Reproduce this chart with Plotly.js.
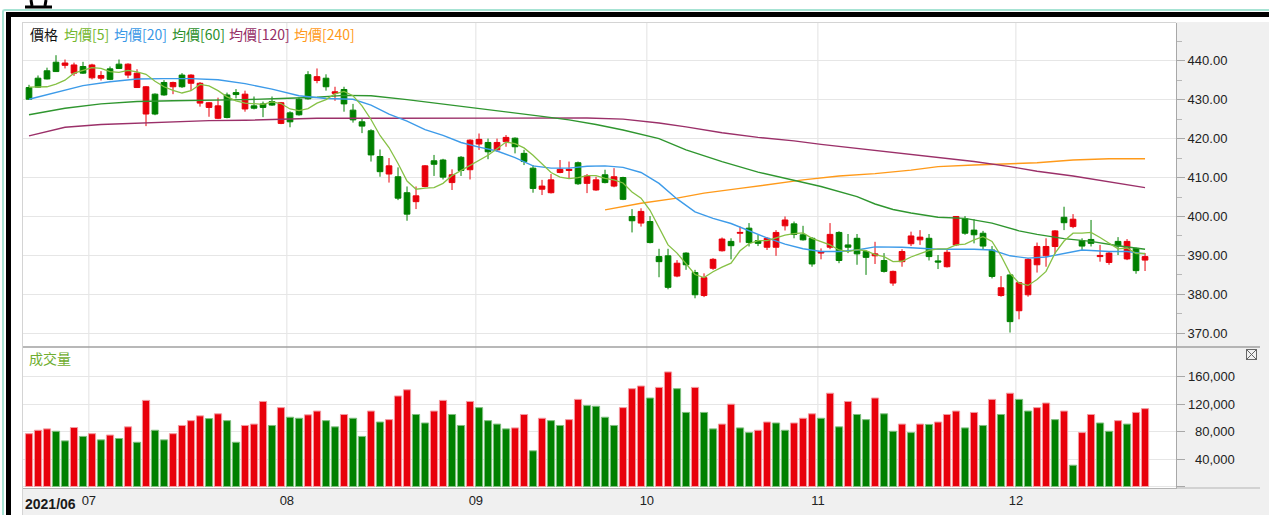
<!DOCTYPE html>
<html><head><meta charset="utf-8">
<script src="https://cdn.plot.ly/plotly-3.0.1.min.js"></script>
<style>
html,body{margin:0;padding:0;background:#fff;width:1269px;height:515px;overflow:hidden;}
#wrap{position:relative;width:1269px;height:515px;}
.abs{position:absolute;}
#chart{position:absolute;left:0;top:0;width:1269px;height:515px;z-index:2;}
</style></head><body>
<div id="wrap">
 <div class="abs" style="left:2px;top:9px;width:1267px;height:506px;border-left:2px solid #a6e3d3;border-top:2px solid #a6e3d3;border-top-left-radius:3px;"></div>
 <div class="abs" style="left:6px;top:12px;width:1263px;height:503px;border-left:5px solid #000;border-top:5px solid #000;"></div>
 <div class="abs" style="left:1176px;top:22px;width:93px;height:493px;background:#f0f0f0;"></div>
 <div class="abs" style="left:22px;top:488px;width:1247px;height:27px;background:#f0f0f0;"></div>
 <div class="abs" style="left:22px;top:22px;width:1px;height:493px;background:#d4d4d4;"></div>
 <div class="abs" style="left:22px;top:22px;width:1154px;height:1px;background:#d4d4d4;"></div>
 <svg class="abs" style="left:22px;top:0px;" width="36" height="10">
  <path d="M3 7 H30" stroke="#000" stroke-width="3"/>
  <path d="M9 0 L10 6 M24 0 L23 6" stroke="#000" stroke-width="3"/>
 </svg>
 <div id="chart"></div>
 <svg class="abs" style="left:1246px;top:349px;z-index:3;" width="12" height="12">
  <rect x="0.5" y="0.5" width="10" height="10" fill="none" stroke="#666" stroke-width="1"/>
  <path d="M1 1 L10 10 M10 1 L1 10" stroke="#666" stroke-width="1"/>
 </svg>
</div>
<script>
// ---------------- data ----------------
const monthLabels = ['07','08','09','10','11','12'];
const monthStartIdx = [7, 29, 50, 69, 88, 110];
const firstLabel = '2021/06';

const open = [433.1,435.5,437.4,439.6,438.8,436.8,438.5,435.6,435.5,437.9,
439.1,436.3,433.1,426.3,431.4,434.4,433.3,436.3,434.2,429.1,
428.0,425.2,431.2,431.8,427.6,428.4,428.9,429.5,423.9,426.6,
430.1,436.4,434.9,435.5,431.6,432.6,427.3,424.3,422.0,415.4,
410.9,410.2,406.1,403.8,407.7,414.3,414.5,408.7,415.2,412.0,
418.6,419.0,417.1,419.2,420.1,416.2,412.4,407.0,406.1,411.3,
411.8,413.8,408.5,406.8,410.7,407.8,410.0,400.0,398.3,398.7,
389.7,389.9,384.7,390.6,385.6,379.7,386.7,391.2,393.6,395.7,
397.0,393.8,392.1,392.1,397.6,398.1,395.3,394.4,390.6,392.1,
395.9,392.7,394.4,391.0,389.9,388.7,382.9,388.4,393.0,394.0,
394.4,388.6,387.1,392.7,399.4,396.5,395.7,391.4,379.7,385.0,
375.8,379.9,387.6,389.9,392.3,399.8,397.4,393.8,394.1,389.7,
388.2,393.6,389.1,391.8,388.8];
const high = [433.8,436.2,438.2,441.4,440.3,439.5,439.7,439.2,437.3,438.5,
440.3,439.3,437.8,433.5,431.6,435.0,434.6,436.8,436.5,434.5,
429.4,430.5,431.8,432.7,432.3,430.8,429.5,430.8,429.4,427.0,
430.5,437.3,438.0,436.5,433.3,433.3,428.9,425.2,422.4,417.2,
415.0,412.6,407.7,407.7,413.2,415.8,414.8,412.1,415.5,419.8,
421.3,420.0,420.0,420.9,420.3,417.1,413.2,409.4,410.9,414.5,
414.1,414.1,410.9,410.2,412.0,412.4,410.2,401.9,402.1,400.1,
391.7,391.7,388.8,390.8,386.3,385.4,389.3,394.6,394.4,397.4,
398.3,395.3,394.7,396.5,400.0,398.7,397.6,394.7,391.8,398.3,
396.2,395.5,395.5,391.3,393.5,390.6,386.1,391.6,396.1,396.5,
395.5,390.1,391.4,400.1,400.1,399.3,396.3,392.4,384.7,385.1,
383.2,389.3,393.3,394.4,396.5,402.5,400.6,394.4,399.1,392.7,
390.9,394.7,394.2,392.0,390.6];
const low = [430.0,433.1,435.2,437.1,438.0,436.1,436.6,435.2,434.9,435.0,
437.9,435.5,433.0,423.2,426.0,431.0,431.4,433.0,432.3,428.2,
425.6,425.0,425.2,430.3,426.9,427.5,425.5,428.4,423.7,422.9,
425.9,430.0,434.2,432.3,429.7,426.9,424.1,421.4,414.1,410.2,
408.7,404.2,398.9,401.9,407.5,410.4,409.5,406.8,410.4,409.5,
417.1,414.7,416.6,417.9,416.2,413.2,406.1,405.5,405.9,411.1,
409.8,408.1,406.0,406.6,408.5,407.5,404.2,395.9,397.4,393.1,
384.4,381.3,384.4,386.3,379.0,379.3,386.3,391.0,389.0,393.3,
392.3,392.4,391.4,389.9,396.4,394.4,393.8,387.1,389.0,391.6,
388.0,390.6,387.6,385.0,387.8,385.6,382.2,387.1,392.4,392.7,
388.7,386.5,386.9,392.4,395.3,393.1,391.4,384.1,379.4,370.2,
373.6,379.4,385.6,387.1,390.4,396.5,397.0,391.4,392.3,388.4,
387.6,390.1,388.8,385.3,386.0];
const close = [430.1,433.2,435.3,437.2,439.4,438.9,436.8,438.9,436.2,435.2,
438.0,439.1,436.8,433.3,426.3,431.2,434.4,433.3,436.3,434.2,
429.2,428.4,425.4,431.3,431.4,427.8,428.0,428.6,429.2,424.3,
426.1,430.2,435.9,433.3,432.0,428.9,424.8,423.2,415.8,411.5,
413.0,404.7,400.6,405.3,413.0,413.4,410.1,410.7,411.8,419.6,
419.8,416.6,419.0,420.3,417.9,414.1,407.2,407.8,409.4,412.1,
412.1,408.4,410.4,409.4,408.7,410.2,404.4,398.9,401.3,393.3,
388.4,381.8,388.0,387.6,379.9,384.3,389.0,394.2,392.5,395.9,
393.3,393.1,394.4,395.9,399.1,395.4,394.0,387.8,391.0,395.4,
388.7,392.1,390.4,389.5,390.4,385.9,385.9,391.0,395.0,394.7,
389.7,388.3,390.8,400.0,395.7,395.3,392.4,384.6,381.7,373.0,
383.0,389.0,392.3,392.3,396.3,398.4,399.3,392.4,393.1,390.0,
390.6,392.4,393.6,386.1,389.7];
const volume = [77000,82000,84000,80500,66500,86000,73000,77000,68000,75000,
70000,87000,64500,125600,82000,68000,77000,89000,96000,103000,
99000,106000,96000,64500,89000,91000,124000,89000,115000,101000,
99500,104500,110000,96000,87000,105000,99500,73000,110000,94000,
97500,132000,141000,105000,92600,110000,125600,105000,89000,124000,
115000,96000,91000,84000,85400,105000,52000,99500,96000,89000,
97500,127000,118000,117000,101000,89000,115000,142600,146500,129000,
144500,167000,142600,108000,144500,108000,84000,91000,120000,85400,
78600,82000,94000,92600,82000,92600,99500,106000,99500,136000,
87000,124000,105000,97500,129000,106000,80500,91000,78600,91000,
90500,94000,105000,110000,85400,108000,89000,127000,105000,136000,
127000,110000,115000,121700,97500,110000,31000,78600,105000,92600,
80500,96000,91000,108000,113500];
const ma5 = [433.2,433.2,433.3,434.0,435.0,436.8,437.5,438.2,438.0,437.2,
437.0,437.5,437.1,436.5,434.7,433.3,432.4,431.7,432.3,433.9,
433.5,432.3,430.7,429.7,429.1,428.9,428.8,429.4,429.0,427.6,
427.2,427.7,429.1,430.0,431.5,432.1,431.0,428.4,424.9,420.8,
417.7,413.6,409.1,407.0,407.3,407.4,408.5,410.5,411.8,413.1,
414.4,415.7,417.4,419.1,418.7,417.6,415.7,413.5,411.3,410.1,
409.7,410.0,410.5,410.5,409.8,409.4,408.6,406.3,404.7,401.6,
397.3,392.7,390.6,387.8,385.1,384.3,385.8,387.0,388.0,391.2,
393.0,393.8,393.8,394.5,395.2,395.6,395.8,394.4,393.5,392.7,
391.4,391.0,391.5,391.2,390.2,389.7,388.4,388.5,389.6,390.5,
391.3,391.7,391.7,392.7,392.9,394.0,394.8,393.6,389.9,385.4,
382.9,382.3,383.8,385.9,390.6,393.7,395.7,395.7,395.9,394.6,
393.1,391.7,391.9,390.5,390.5];
const ma20X = [0,3,6,9,12,15,18,21,24,27,30,33,36,38,40,42,44,46,48,50,52,54,56,58,60,62,64,66,68,70,72,74,76,78,80,82,84,86,88,90,92,94,97,101,105,107,109,111,113,115,117,120,122,124];
const ma20Y = [430.1,431.8,433.6,434.6,435.3,435.4,435.4,435.1,434.1,432.7,431.0,430.3,430.1,428.6,426.3,424.5,422.3,420.8,419.0,417.8,416.8,415.1,413.0,412.4,412.4,412.9,413.0,412.6,411.3,408.5,404.5,401.2,399.5,398.2,396.3,394.5,392.9,391.7,391.0,391.0,391.4,392.2,392.1,391.6,391.6,391.4,389.9,389.3,389.6,390.5,391.4,391.0,391.0,390.4];
const ma60X = [0,4,8,12,16,20,24,28,32,35,38,42,46,49,53,57,60,63,66,70,73,77,81,85,88,92,94,96,98,101,104,107,110,112,115,118,121,124];
const ma60Y = [426.1,427.8,428.9,429.5,429.7,429.8,430.0,430.3,430.6,431.1,431.0,430.0,428.9,427.9,426.8,425.7,424.8,423.6,422.2,420.0,417.1,414.1,411.4,409.2,407.7,405.1,403.2,401.8,400.9,399.8,399.5,398.3,396.3,395.4,394.3,393.6,392.5,391.6];
const ma120X = [0,4,8,12,16,20,24,28,32,40,50,58,62,66,70,73,77,81,85,88,92,94,98,101,105,109,112,116,120,124];
const ma120Y = [420.7,422.9,423.6,423.9,424.3,424.6,424.7,425.0,425.2,425.2,425.2,425.2,425.3,425.0,424.0,423.0,421.5,420.3,419.4,418.5,417.5,417.0,415.9,415.2,414.1,412.8,411.6,410.4,408.9,407.4];
const ma240X = [64,68,72,75,79,83,86,90,94,98,101,105,109,112,116,120,124];
const ma240Y = [401.7,403.4,404.7,406.0,407.2,408.5,409.4,410.4,411.0,411.9,412.8,413.2,413.6,413.8,414.5,414.8,414.8];
const volTicks = [40000, 80000, 120000, 160000];
const legendNames = ['價格','均價[5]','均價[20]','均價[60]','均價[120]','均價[240]'];

// ---------------- geometry / style ----------------
const W = 1269, H = 515, L = 23, R = 1176, T = 23, B = 488, SPLIT = 347;
const px2x = p => (p - L) / (R - L);
const py2y = p => (B - p) / (B - T);
const volTop = (B - SPLIT) / (B - T);
const RED = '#e8000b', GREEN = '#008000';
const idx = close.map((_, i) => i);
const volColors = volume.map((v, i) => (i === 0 || v >= volume[i - 1]) ? RED : GREEN);
const volEdge = volColors.map(c => c === RED ? '#f39aa0' : '#7fbf7f');
const numFont = {family: 'Liberation Sans, Arial, sans-serif', size: 13, color: '#222'};
const cjk = 'Noto Sans CJK TC, Noto Sans CJK SC, sans-serif';

const traces = [
  {type: 'bar', x: idx, y: volume, width: 0.8, xaxis: 'x', yaxis: 'y2',
   marker: {color: volColors, line: {color: volEdge, width: 1}}, hoverinfo: 'skip'},
  {type: 'candlestick', x: idx, open: open, high: high, low: low, close: close,
   xaxis: 'x', yaxis: 'y', whiskerwidth: 0,
   increasing: {line: {color: RED, width: 1}, fillcolor: RED},
   decreasing: {line: {color: GREEN, width: 1}, fillcolor: GREEN}, hoverinfo: 'skip'},
  {type: 'scatter', mode: 'lines', x: ma240X, y: ma240Y, line: {color: '#ff9a1a', width: 1.4}, xaxis: 'x', yaxis: 'y'},
  {type: 'scatter', mode: 'lines', x: ma120X, y: ma120Y, line: {color: '#9b3069', width: 1.4}, xaxis: 'x', yaxis: 'y'},
  {type: 'scatter', mode: 'lines', x: ma60X, y: ma60Y, line: {color: '#2f962f', width: 1.4}, xaxis: 'x', yaxis: 'y'},
  {type: 'scatter', mode: 'lines', x: ma20X, y: ma20Y, line: {color: '#3d9be9', width: 1.4}, xaxis: 'x', yaxis: 'y'},
  {type: 'scatter', mode: 'lines', x: idx, y: ma5, line: {color: '#86c145', width: 1.3}, xaxis: 'x', yaxis: 'y'}
];

const shapes = monthStartIdx.map(m => ({type: 'line', xref: 'x', yref: 'paper', x0: m - 0.35, x1: m - 0.35, y0: 0, y1: 1,
  line: {color: '#e2e2e2', width: 1}, layer: 'below'}));
shapes.push({type: 'line', xref: 'paper', yref: 'paper', x0: 0, x1: px2x(1260), y0: volTop, y1: volTop, line: {color: '#a0a0a0', width: 1.5}});
shapes.push({type: 'line', xref: 'paper', yref: 'paper', x0: 1, x1: px2x(1260), y0: 0, y1: 0, line: {color: '#b4b4b4', width: 1}});

const legendX = [29, 63, 113, 171, 228, 293];
const legendC = ['#111', '#74b72e', '#3a98e6', '#2b8f2b', '#962e66', '#ff9a1a'];
const annotations = legendNames.map((t, k) => ({text: t, xref: 'paper', yref: 'paper', x: px2x(legendX[k]), y: py2y(33.5),
  xanchor: 'left', yanchor: 'middle', showarrow: false, borderpad: 0, font: {family: cjk, size: 14, color: legendC[k]}}));
annotations.push({text: '成交量', xref: 'paper', yref: 'paper', x: px2x(28), y: py2y(358.5), xanchor: 'left', yanchor: 'middle',
  showarrow: false, borderpad: 0, font: {family: cjk, size: 14, color: '#6fae30'}});
annotations.push({text: '<b>' + firstLabel + '</b>', xref: 'paper', yref: 'paper', x: px2x(24), y: py2y(504), xanchor: 'left', yanchor: 'middle',
  showarrow: false, borderpad: 0, font: {family: 'Liberation Sans, Arial, sans-serif', size: 14, color: '#1a1a1a'}});
volTicks.forEach(v => annotations.push({text: v.toLocaleString('en-US'), xref: 'paper', yref: 'y2', x: px2x(1236), y: v,
  xanchor: 'right', yanchor: 'middle', showarrow: false, borderpad: 0, font: numFont}));

const layout = {
  width: W, height: H,
  margin: {l: L, r: W - R, t: T, b: H - B, pad: 0},
  paper_bgcolor: 'rgba(0,0,0,0)', plot_bgcolor: '#ffffff',
  showlegend: false, hovermode: false, dragmode: false,
  boxgap: 0.1,
  xaxis: {range: [-0.667, 127.44], anchor: 'y2', showgrid: false, zeroline: false, showline: true,
    linecolor: '#b4b4b4', linewidth: 1, ticks: '', tickmode: 'array',
    tickvals: monthStartIdx.map(m => m - 0.35), ticktext: monthLabels, tickfont: numFont,
    rangeslider: {visible: false}, fixedrange: true},
  yaxis: {domain: [volTop, 1], range: [366.49, 449.67], side: 'right', anchor: 'x',
    tickmode: 'linear', tick0: 0, dtick: 10, tickformat: '.2f', ticks: 'outside', ticklen: 8,
    tickcolor: '#a8a8a8', showline: true, linecolor: '#a8a8a8', showgrid: true, gridcolor: '#e6e6e6',
    gridwidth: 1, zeroline: false, tickfont: numFont, fixedrange: true,
    minor: {dtick: 5, tick0: 0, ticks: 'outside', ticklen: 5, tickcolor: '#b8b8b8', showgrid: false}},
  yaxis2: {domain: [0, volTop], range: [-2200, 203400], side: 'right', anchor: 'x',
    tickmode: 'array', tickvals: [0].concat(volTicks), showticklabels: false, ticks: 'outside', ticklen: 8,
    tickcolor: '#a8a8a8', showline: true, linecolor: '#a8a8a8', showgrid: true, gridcolor: '#e6e6e6',
    zeroline: false, fixedrange: true},
  shapes: shapes,
  annotations: annotations
};

Plotly.newPlot('chart', traces, layout, {staticPlot: true, displayModeBar: false});
</script>
</body></html>
